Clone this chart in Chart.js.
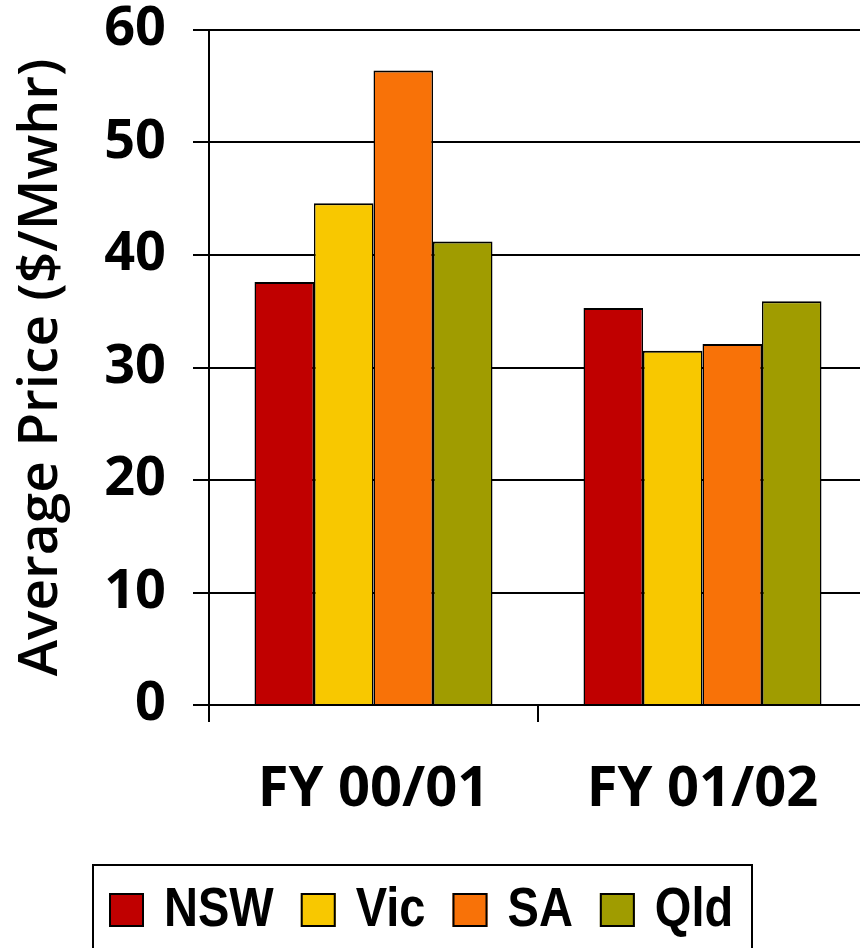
<!DOCTYPE html>
<html>
<head>
<meta charset="utf-8">
<script src="https://cdn.jsdelivr.net/npm/chart.js@4/dist/chart.umd.min.js"></script>
<style>
  html, body { margin: 0; padding: 0; background: #fff; overflow: hidden; }
  #wrap { position: relative; width: 870px; height: 948px; }
</style>
</head>
<body>
<div id="wrap"><canvas id="c"></canvas></div>
<script>
// Average wholesale electricity price by region, $/MWh
const categories = ['FY 00/01', 'FY 01/02'];
const regions = ['NSW', 'Vic', 'SA', 'Qld'];
const nsw = [37.6, 35.3];
const vic = [44.6, 31.5];
const sa  = [56.4, 32.1];
const qld = [41.2, 35.9];
const yTicks = [0, 10, 20, 30, 40, 50, 60];

const colours = ['#C00000', '#F8C800', '#F87208', '#A09C00'];
const series = [nsw, vic, sa, qld];

// Boxed legend drawn under the plot, one swatch + label per dataset
const boxedLegend = {
  id: 'boxedLegend',
  afterDraw(chart) {
    const ctx = chart.ctx;
    ctx.save();
    const left = 93, top = 865, right = 752;
    ctx.strokeStyle = '#000';
    ctx.lineWidth = 2;
    ctx.strokeRect(left, top, right - left, 120);
    ctx.font = 'bold 56px "Liberation Sans", Arial, sans-serif';
    ctx.textBaseline = 'middle';
    const squeeze = 0.84; // condensed lettering
    let x = 109;
    const sw = 35, sh = 34, sy = 893;
    chart.data.datasets.forEach(ds => {
      ctx.fillStyle = ds.backgroundColor;
      ctx.fillRect(x, sy, sw, sh);
      ctx.lineWidth = 2;
      ctx.strokeStyle = '#000';
      ctx.strokeRect(x + 1, sy + 1, sw - 2, sh - 2);
      x += sw + 20;
      ctx.fillStyle = '#000';
      ctx.save();
      ctx.translate(x, 911);
      ctx.scale(squeeze, 1);
      ctx.fillText(ds.label, 0, 0);
      ctx.restore();
      x += ctx.measureText(ds.label).width * squeeze + 27;
    });
    ctx.restore();
  }
};

new Chart(document.getElementById('c'), {
  type: 'bar',
  data: {
    labels: categories,
    datasets: regions.map((r, i) => ({
      label: r,
      data: series[i],
      backgroundColor: colours[i],
      borderColor: '#000',
      borderWidth: { top: 2, left: 1.5, right: 1.5, bottom: 0 },
      borderSkipped: false,
      categoryPercentage: 0.7234,
      barPercentage: 1.0
    }))
  },
  options: {
    responsive: true,
    maintainAspectRatio: false,
    animation: false,
    layout: { padding: { top: 30, right: 3, bottom: 100, left: 0 } },
    plugins: {
      legend: { display: false },
      tooltip: { enabled: false }
    },
    scales: {
      x: {
        offset: true,
        grid: {
          offset: true,
          drawOnChartArea: false,
          color: '#000',
          lineWidth: 2,
          tickLength: 17
        },
        border: { color: '#000', width: 2 },
        ticks: {
          color: '#000',
          padding: 40,
          font: { family: '"Open Sans", "Noto Sans", sans-serif', size: 56, weight: 'bold', lineHeight: 1 }
        },
        afterFit(s) { s.height = 143; }
      },
      y: {
        min: 0,
        max: 60,
        afterBuildTicks(s) { s.ticks = yTicks.map(v => ({ value: v })); },
        grid: {
          color: '#000',
          lineWidth: 2,
          tickLength: 16
        },
        border: { color: '#000', width: 2 },
        ticks: {
          color: '#000',
          padding: 27,
          font: { family: '"Open Sans", "Noto Sans", sans-serif', size: 54, weight: 'bold', lineHeight: 1 }
        },
        title: {
          display: true,
          text: 'Average Price ($/Mwhr)',
          color: '#000',
          padding: { top: 8, bottom: 0 },
          font: { family: '"Open Sans", "Noto Sans", sans-serif', size: 55, weight: '600', lineHeight: 1.2 }
        },
        afterFit(s) {
          s.width = 209;
          s.paddingTop = 0;
          s.paddingBottom = 0;
        }
      }
    }
  },
  plugins: [boxedLegend]
});
</script>
</body>
</html>
